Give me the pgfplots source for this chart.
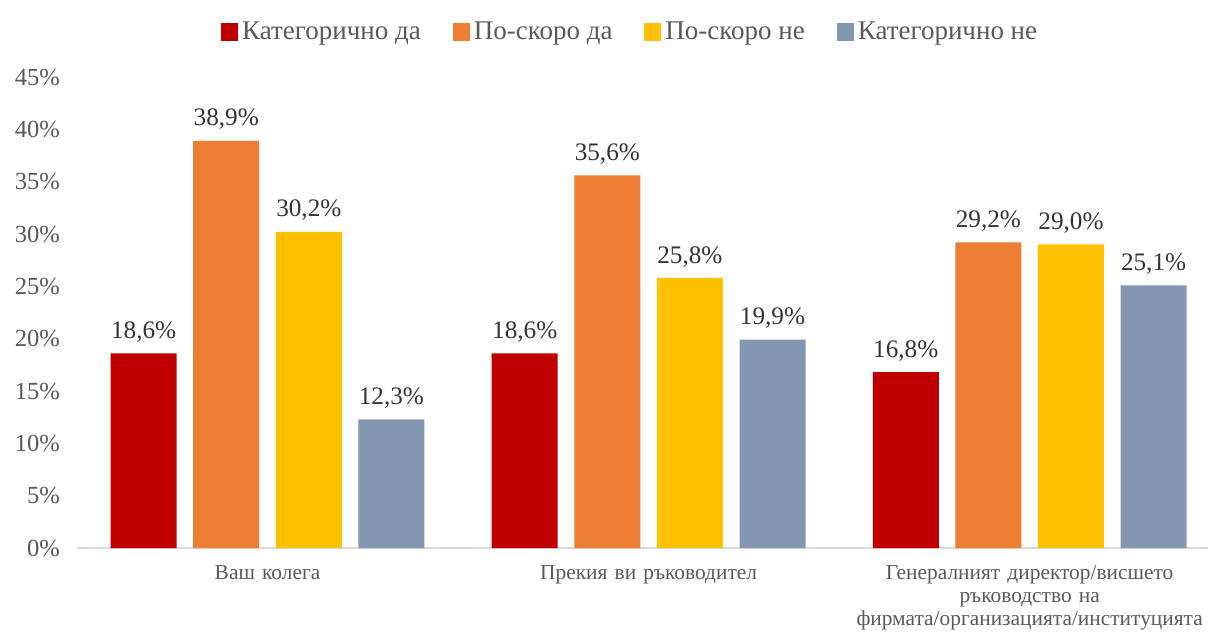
\documentclass[border=0pt]{standalone}
\usepackage{fontspec}
\setmainfont{Liberation Serif}
\usepackage{pgfplots}
\pgfplotsset{compat=1.18}

\definecolor{cRed}{HTML}{C00000}
\definecolor{cOrange}{HTML}{ED7D31}
\definecolor{cYellow}{HTML}{FFC000}
\definecolor{cGray}{HTML}{8497B0}
\definecolor{txt}{HTML}{595959}
\definecolor{axl}{HTML}{D9D9D9}

\begin{document}
\begin{tikzpicture}
\useasboundingbox (-38.5pt,-42pt) rectangle (565.5pt,274pt);
\begin{axis}[
    at={(0,0)}, anchor=south west,
    scale only axis,
    width=565.5pt, height=235.5pt,
    ybar=8.3pt, bar width=33pt,
    xmin=-0.5, xmax=2.468,
    ymin=0, ymax=45,
    xtick=data,
    xticklabels={Ваш колега, Прекия ви ръководител, Генералният директор/висшето ръководство на фирмата/организацията/институцията},
    xticklabel style={text width=175pt, align=center, font=\fontsize{10.7}{11.6}\selectfont, text=txt, yshift=-5pt},
    ytick={0,5,...,45},
    yticklabel={\pgfmathprintnumber{\tick}\%},
    yticklabel style={font=\fontsize{12.3}{12.5}\selectfont, text=txt, xshift=-5pt},
    /pgf/number format/assume math mode=true,
    major tick length=0pt,
    axis x line*=bottom,
    axis y line*=left,
    separate axis lines,
    x axis line style={draw=axl, line width=1pt},
    y axis line style={draw=none},
    nodes near coords={\pgfmathprintnumber[fixed, precision=1, zerofill, use comma]{\pgfplotspointmeta}\%},
    nodes near coords style={font=\fontsize{12.6}{13}\selectfont, text=black!80, yshift=2pt},
    legend style={at={(0.49,1.0)}, anchor=south, yshift=13pt, draw=none,
        legend columns=-1, font=\fontsize{13.5}{14}\selectfont, text=txt,
        /tikz/every even column/.append style={column sep=14pt}},
    legend image code/.code={\fill[#1] (0pt,-4.5pt) rectangle (8.5pt,4.5pt);},
    clip=false,
]
\addplot[fill=cRed, draw=none] coordinates {(0,18.6) (1,18.6) (2,16.8)};
\addlegendentry{Категорично да}
\addplot[fill=cOrange, draw=none] coordinates {(0,38.9) (1,35.6) (2,29.2)};
\addlegendentry{По-скоро да}
\addplot[fill=cYellow, draw=none] coordinates {(0,30.2) (1,25.8) (2,29.0)};
\addlegendentry{По-скоро не}
\addplot[fill=cGray, draw=none] coordinates {(0,12.3) (1,19.9) (2,25.1)};
\addlegendentry{Категорично не}
\end{axis}
\end{tikzpicture}
\end{document}
